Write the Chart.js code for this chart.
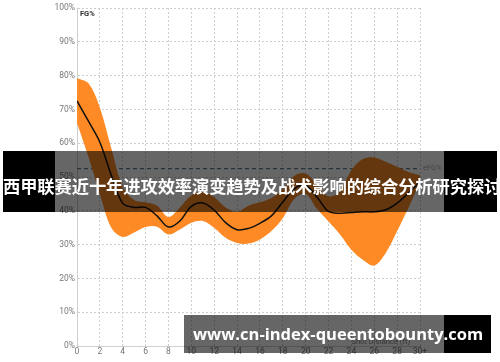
<!DOCTYPE html>
<html>
<head>
<meta charset="utf-8">
<script src="https://cdn.jsdelivr.net/npm/chart.js@4"></script>
<style>
html,body{margin:0;padding:0;background:#fff;}
#wrap{position:relative;width:500px;height:362px;overflow:hidden;}
#c{position:absolute;left:0;top:0;}
#banner{position:absolute;left:3px;top:151px;width:494px;height:61px;
 background:linear-gradient(to right,#000 0,#000 52px,rgba(0,0,0,0.6) 52px,rgba(0,0,0,0.6) 441px,#000 441px,#000 494px);
 color:#fff;font-family:"Noto Sans CJK SC";font-weight:bold;font-size:17.3px;line-height:61px;text-align:center;white-space:nowrap;padding-top:4px;box-sizing:border-box;letter-spacing:-0.1px;}
#wm{position:absolute;left:184px;top:315px;width:307px;height:38px;
 background:linear-gradient(to right,rgba(0,0,0,0.6) 0,rgba(0,0,0,0.6) 260px,#000 260px,#000 307px);
 color:#fff;font-family:"Open Sans";font-weight:bold;font-size:16.5px;line-height:38px;white-space:nowrap;padding-left:9px;box-sizing:border-box;}
</style>
</head>
<body>
<div id="wrap">
<canvas id="c" width="500" height="362"></canvas>
<div id="banner">西甲联赛近十年进攻效率演变趋势及战术影响的综合分析研究探讨</div>
<div id="wm">www.cn-index-queentobounty.com</div>
</div>
<script>
const distances = [0,1,2,3,4,5,6,7,8,9,10,11,12,13,14,15,16,17,18,19,20,21,22,23,24,25,26,27,28,29,30];
const fgPct   = [72.5,66.5,60.3,50.5,42.2,41.0,41.0,38.5,35.2,37.0,41.3,42.3,40.2,36.5,34.4,34.8,36.3,38.5,42.6,46.5,47.5,44.0,39.8,39.3,39.5,39.7,39.7,40.3,42.3,45.3,48.5];
const bandHigh= [79.2,77.7,70.5,58.5,47.0,43.2,42.5,41.5,38.2,41.0,44.5,45.6,44.0,41.0,39.7,41.5,42.5,43.8,46.3,50.3,51.0,47.5,44.3,45.8,52.0,55.3,55.8,54.5,53.0,51.5,50.5];
const bandLow = [66.0,56.0,45.0,35.0,32.3,33.6,35.2,35.3,33.0,34.5,36.5,37.0,35.0,32.0,30.5,30.3,31.5,34.0,37.8,43.5,45.0,40.5,36.8,33.0,28.5,25.5,23.8,27.5,34.0,41.0,48.5];
const efgPct = 52.5;
const xTickMax = 30;

const pts = arr => distances.map((d,i)=>({x:d,y:arr[i]}));
const orange = '#fd8a24';

const labels = {
  id:'labels',
  afterDraw(chart){
    const {ctx, chartArea, scales} = chart;
    ctx.save();
    ctx.font = 'bold 7.5px Roboto';
    ctx.fillStyle = '#333';
    ctx.textAlign = 'left'; ctx.textBaseline = 'middle';
    ctx.fillText('FG%', chartArea.left + 3, chartArea.top + 6);
    ctx.font = '7.5px Roboto';
    ctx.fillStyle = '#aaa';
    ctx.fillText('eFG%', chartArea.right + 3, scales.y.getPixelForValue(efgPct));
    ctx.fillStyle = '#888';
    ctx.textAlign = 'right';
    ctx.fillText('Shot Distance (ft)', chartArea.right - 10, chartArea.bottom - 4);
    ctx.restore();
  }
};

new Chart(document.getElementById('c'), {
  type:'line',
  data:{
    datasets:[
      {data:pts(bandHigh), borderWidth:0, borderColor:orange, backgroundColor:orange, fill:'+1', pointRadius:0, tension:0.35, order:2},
      {data:pts(bandLow), borderWidth:0, borderColor:orange, backgroundColor:orange, fill:false, pointRadius:0, tension:0.35, order:2},
      {data:pts(fgPct), borderWidth:1.5, borderColor:'#111', fill:false, pointRadius:0, tension:0.35, order:0},
      {data:distances.map(d=>({x:d,y:efgPct})), borderWidth:1.3, borderColor:'#5f7f92', borderDash:[4,3], fill:false, pointRadius:0, tension:0, order:3}
    ]
  },
  options:{
    responsive:false, animation:false,
    layout:{padding:{top:8,right:80,left:0,bottom:0}},
    plugins:{legend:{display:false}, tooltip:{enabled:false}},
    scales:{
      x:{type:'linear', min:0, max:xTickMax,
        afterFit(s){ s.height = 16; },
        ticks:{stepSize:2, padding:1, color:'#777', font:{family:'Roboto', size:8.5}, maxRotation:0,
          callback:v => v===xTickMax ? xTickMax+'+' : String(v)},
        grid:{color:'#cfcfcf', drawTicks:false},
        border:{dash:[2,2], color:'#cfcfcf'}
      },
      y:{min:0, max:100,
        afterFit(s){ s.width = 77; },
        ticks:{stepSize:10, padding:2, color:'#777', font:{family:'Roboto', size:8.5}, callback:v=>v+'%'},
        grid:{color:'#cfcfcf', drawTicks:false},
        border:{dash:[2,2], color:'#cfcfcf'}
      }
    }
  },
  plugins:[labels]
});
</script>
</body>
</html>
